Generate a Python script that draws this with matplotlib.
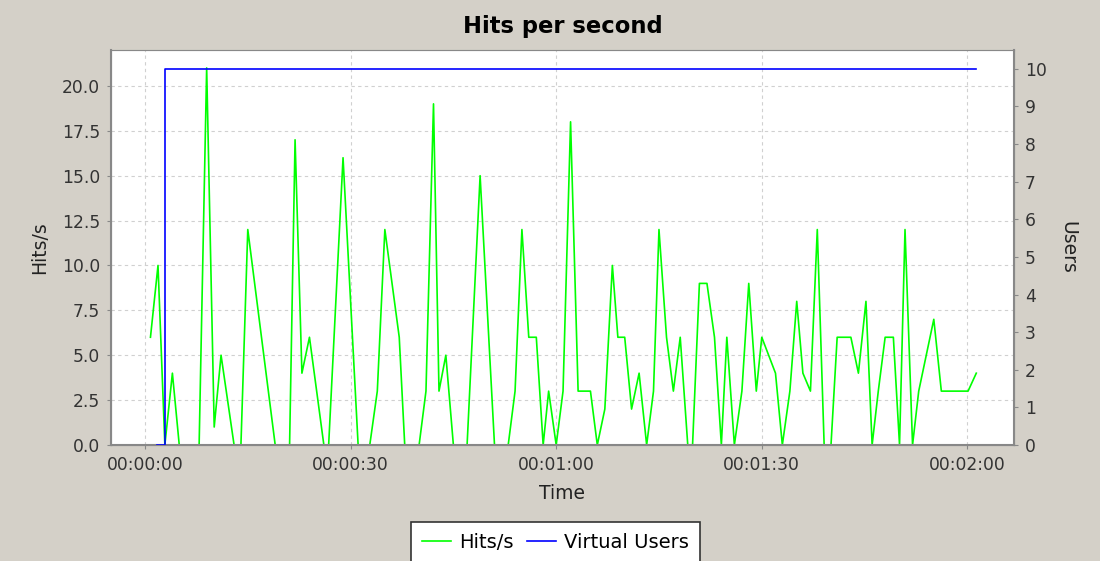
import matplotlib.pyplot as plt
from matplotlib.ticker import FuncFormatter, MultipleLocator

# hits per second samples (seconds since start, hits)
hits_t = [0.8, 1.9, 2.9, 4.0, 5.0, 7.9, 9.0, 10.1, 11.1, 13.0, 14.0, 15.0,
          19.0, 21.1, 21.9, 22.9, 24.0, 26.1, 26.8, 28.9, 31.1, 32.8, 33.9,
          35.0, 37.1, 37.9, 40.0, 41.0, 42.1, 42.9, 43.9, 45.0, 47.0, 48.9,
          51.0, 53.0, 54.0, 55.0, 56.0, 57.1, 58.1, 58.9, 60.0, 61.0, 62.1,
          63.2, 65.0, 66.0, 67.1, 68.2, 69.0, 70.0, 71.0, 72.1, 73.2, 74.2,
          75.0, 76.1, 77.1, 78.1, 79.2, 79.9, 80.9, 82.0, 83.1, 84.1, 84.9,
          86.0, 87.1, 88.1, 89.2, 90.0, 92.0, 93.0, 94.1, 95.1, 96.0, 97.1,
          98.1, 99.1, 100.1, 101.0, 103.0, 104.1, 105.2, 106.1, 107.0, 108.0,
          109.2, 110.1, 110.9, 112.0, 112.9, 115.1, 116.2, 120.1, 121.3]
hits_v = [6, 10, 0, 4, 0, 0, 21, 1, 5, 0, 0, 12,
          0, 0, 17, 4, 6, 0, 0, 16, 0, 0, 3,
          12, 6, 0, 0, 3, 19, 3, 5, 0, 0, 15,
          0, 0, 3, 12, 6, 6, 0, 3, 0, 3, 18,
          3, 3, 0, 2, 10, 6, 6, 2, 4, 0, 3,
          12, 6, 3, 6, 0, 0, 9, 9, 6, 0, 6,
          0, 3, 9, 3, 6, 4, 0, 3, 8, 4, 3,
          12, 0, 0, 6, 6, 4, 8, 0, 3, 6,
          6, 0, 12, 0, 3, 7, 3, 3, 4]

# active threads
users_t = [1.8, 2.9, 2.9, 121.3]
users_v = [0, 0, 10, 10]

bg = "#d4d0c8"
grid_col = "#d0d0d0"
axis_col = "#888888"


def hms(x, pos):
    s = int(round(x))
    return f"{s // 3600:02d}:{(s % 3600) // 60:02d}:{s % 60:02d}"


fig = plt.figure(figsize=(11, 5.61), dpi=100, facecolor=bg)
ax = fig.add_axes([0.1009, 0.2068, 0.8209, 0.7041])
ax2 = ax.twinx()

l1, = ax.plot(hits_t, hits_v, color="#00ff00", lw=1.2, label="Hits/s")
l2, = ax2.plot(users_t, users_v, color="#0000ff", lw=1.2, label="Virtual Users")

ax.set_xlim(-4.96, 126.8)
ax.set_ylim(0, 22)
ax2.set_ylim(0, 10.5)

ax.xaxis.set_major_locator(MultipleLocator(30))
ax.xaxis.set_major_formatter(FuncFormatter(hms))
ax.yaxis.set_major_locator(MultipleLocator(2.5))
ax.yaxis.set_major_formatter(FuncFormatter(lambda v, p: f"{v:.1f}"))
ax2.yaxis.set_major_locator(MultipleLocator(1))

ax.grid(True, color=grid_col, ls=(0, (3, 3)), lw=0.8)
ax.set_axisbelow(True)

for a in (ax, ax2):
    for sp in a.spines.values():
        sp.set_color(axis_col)
    a.tick_params(colors="#333333", labelsize=12.3, length=3, width=0.8, pad=5)
    a.tick_params(axis="both", color=axis_col)
ax.spines["left"].set_linewidth(1.5)
ax.spines["bottom"].set_linewidth(1.5)
ax2.spines["right"].set_linewidth(1.5)
ax.spines["top"].set_color("#c0c0c0")

ax.set_title("Hits per second", fontsize=16.3, fontweight="bold", pad=12)
ax.set_xlabel("Time", fontsize=13.5, labelpad=7, color="#222222")
ax.set_ylabel("Hits/s", fontsize=13.5, labelpad=9, color="#222222")
ax2.set_ylabel("Users", fontsize=13.5, rotation=270, labelpad=22, color="#222222")

leg = fig.legend(handles=[l1, l2], loc="upper center",
                 bbox_to_anchor=(0.505, 0.0695), borderaxespad=0, ncol=2,
                 fontsize=14, frameon=True, fancybox=False, framealpha=1,
                 facecolor="white", edgecolor="#333333",
                 handlelength=1.5, handletextpad=0.4, columnspacing=0.7,
                 borderpad=0.55)
leg.get_frame().set_linewidth(1.2)

fig.savefig("out.png", dpi=100, facecolor=bg)
